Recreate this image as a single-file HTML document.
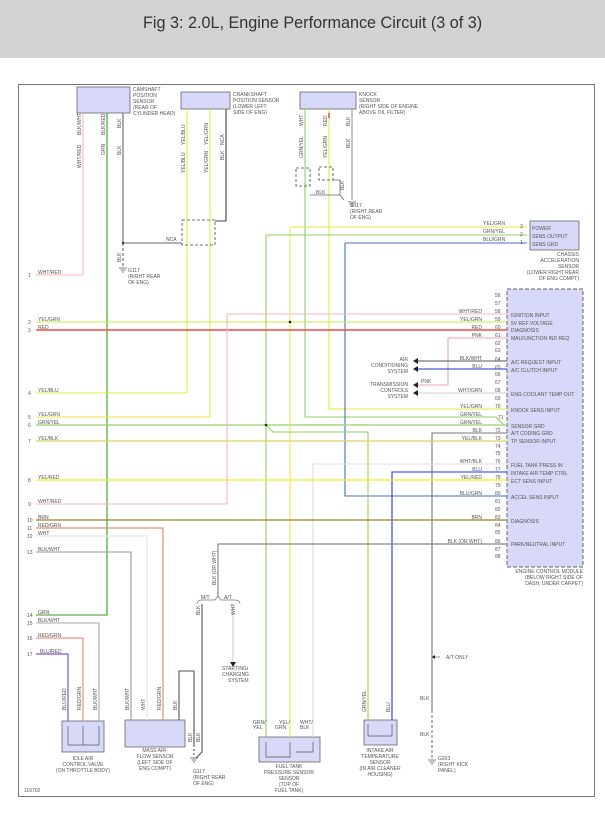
<!DOCTYPE html>
<html><head><meta charset="utf-8"><style>
html,body{margin:0;padding:0;background:#fff;}
svg{display:block;}
text{font-family:"Liberation Sans",sans-serif;font-size:5px;fill:#555;}
.t{font-size:16.2px;fill:#333;}
</style></head><body>
<svg width="605" height="815" viewBox="0 0 605 815" xmlns="http://www.w3.org/2000/svg">
<rect x="0" y="0" width="605" height="58" fill="#d3d3d3"/>
<text class="t" x="143" y="28">Fig 3: 2.0L, Engine Performance Circuit (3 of 3)</text>
<rect x="18.5" y="84.5" width="576" height="712" fill="none" stroke="#777" stroke-width="1"/>

<g fill="#d8d8f8" stroke="#666" stroke-width="0.8">
<rect x="77" y="87" width="53" height="26"/>
<rect x="181" y="92" width="49" height="17"/>
<rect x="300" y="92" width="56" height="17"/>
<rect x="530" y="221" width="49" height="29"/>
<rect x="507" y="289" width="76" height="278" stroke-dasharray="4,2" stroke-width="1"/>
<rect x="62" y="721" width="42" height="31"/>
<rect x="125" y="720" width="60" height="27"/>
<rect x="259" y="737" width="61" height="25"/>
<rect x="364" y="720" width="33" height="25"/>
</g>

<g fill="none" stroke-width="1.1">
<path d="M83 113V275H36" stroke="#f4b8b8"/>
<path d="M107 113V615H36" stroke="#3a9a20"/>
<path d="M123 113V243" stroke="#666"/>
<path d="M123 243V266" stroke="#666" stroke-dasharray="3,2"/>
<path d="M123 243H182" stroke="#666"/>
<path d="M187 109V393H36" stroke="#eaea40"/>
<path d="M210 109V417H36" stroke="#e6e640"/>
<path d="M226 109V221H215" stroke="#444"/>
<rect x="182" y="220" width="33" height="25" stroke="#444" stroke-dasharray="3,2" stroke-width="0.8"/>
<path d="M305 109V417H496L504 425" stroke="#8fd060"/>
<path d="M329 109V409H507" stroke="#e6e640"/>
<path d="M352 109V200" stroke="#999"/>
<path d="M329 113V118" stroke="#d33" stroke-width="1.4"/>
<rect x="296" y="168" width="14" height="18" stroke="#444" stroke-dasharray="3,2" stroke-width="0.8"/>
<rect x="319" y="167" width="14" height="13" stroke="#444" stroke-dasharray="3,2" stroke-width="0.8"/>
<path d="M310 195H340L344 200M333 180H340V195" stroke="#666" stroke-width="0.8"/>
<path d="M290 227H527" stroke="#e6e640"/>
<path d="M290 227V737" stroke="#eaea40"/>
<path d="M266 235H527" stroke="#8fd060"/>
<path d="M266 235V737" stroke="#8fd060"/>
<path d="M345 243H527" stroke="#4a6ad0"/>
<path d="M345 243V496H507" stroke="#4a6ad0"/>
<path d="M36 322H507" stroke="#c8e840"/>
<path d="M36 330H507" stroke="#f04848" stroke-width="1.5"/>
<path d="M36 504H227V314H507" stroke="#f4b8b8"/>
<path d="M507 338H448V385H417" stroke="#f4a0b8"/>
<path d="M507 361H417" stroke="#555"/>
<path d="M507 369H417" stroke="#2233cc"/>
<path d="M507 393H417" stroke="#c8d0c0"/>
<path d="M36 425H507" stroke="#a8d880" stroke-width="1.4"/>
<path d="M266 425L273 432H368V720" stroke="#8fd060"/>
<path d="M507 433H432V710" stroke="#777"/>
<path d="M432 710V758" stroke="#777" stroke-dasharray="3,2"/>
<path d="M36 441H507" stroke="#e0d060" stroke-width="1.2"/>
<path d="M507 464H313V737" stroke="#ddd"/>
<path d="M507 472H392V720" stroke="#2233ee"/>
<path d="M36 480H507" stroke="#f0f020" stroke-width="1.3"/>
<path d="M36 520H507" stroke="#9a8030" stroke-width="1.2"/>
<path d="M36 528H163V720" stroke="#e09070" stroke-width="1.2"/>
<path d="M36 536H147V720" stroke="#e8e8e8" stroke-width="1.3"/>
<path d="M36 552H131V720" stroke="#999"/>
<path d="M507 544H218V596" stroke="#888" stroke-width="1.2"/>
<path d="M197 604Q197 600 202 600H215L218 596L221 600H235Q240 600 240 604" stroke="#777" stroke-width="0.7"/>
<path d="M202 604V752L196 758" stroke="#555"/>
<path d="M233 604V662" stroke="#ccc"/>
<path d="M179 720V671H194V745" stroke="#555"/>
<path d="M194 725V757" stroke="#555" stroke-dasharray="2,2"/>
<path d="M36 623H99V721" stroke="#aaa"/>
<path d="M36 638H83V721" stroke="#f09080" stroke-width="1.2"/>
<path d="M36 654H68V721" stroke="#8050e0" stroke-width="1.2"/>
<path d="M68 726V745H99V726M83 726V745" stroke="#555" stroke-width="0.7"/>
<path d="M266 742V757H290V742M290 752V742M296 752H313V742" stroke="#555" stroke-width="0.7"/>
<path d="M368 724V736H392V724" stroke="#555" stroke-width="0.7"/>
<path d="M432 657H440" stroke="#555" stroke-width="0.6"/>
</g>

<g fill="#222">
<circle cx="290" cy="322" r="1.3"/><circle cx="266" cy="425" r="1.3"/><circle cx="123" cy="243" r="1.1"/>
</g>
<g fill="#222">
<path d="M413 361l5-3v6z"/><path d="M413 369l5-3v6z"/><path d="M413 385l5-3v6z"/><path d="M413 393l5-3v6z"/>
<path d="M230 662h6l-3 5z"/>
<path d="M432 657l3-2v4z"/>
</g>
<g stroke="#555" stroke-width="0.8">
<path d="M119 268h8M120.5 270h5M122 272h2"/><path d="M348 202h8M349.5 204h5M351 206h2"/>
<path d="M190 758h8M191.5 760h5M193 762h2"/><path d="M428 760h8M429.5 762h5M431 764h2"/>
</g>

<g>
<text x="133" y="91">CAMSHAFT</text><text x="133" y="97">POSITION</text><text x="133" y="103">SENSOR</text><text x="133" y="109">(REAR OF</text><text x="133" y="115">CYLINDER HEAD)</text>
<text x="233" y="96">CRANKSHAFT</text><text x="233" y="102">POSITION SENSOR</text><text x="233" y="108">(LOWER LEFT</text><text x="233" y="114">SIDE OF ENG)</text>
<text x="359" y="96">KNOCK</text><text x="359" y="102">SENSOR</text><text x="359" y="108">(RIGHT SIDE OF ENGINE</text><text x="359" y="114">ABOVE OIL FILTER)</text>
<text x="128" y="272">G117</text><text x="128" y="278">(RIGHT REAR</text><text x="128" y="284">OF ENG)</text>
<text x="350" y="207">G117</text><text x="350" y="213">(RIGHT REAR</text><text x="350" y="219">OF ENG)</text>
<text x="316" y="194">BLK</text><text x="166" y="241">NCA</text>
<text x="532" y="230">POWER</text><text x="532" y="238">SENS OUTPUT</text><text x="532" y="246">SENS GRD</text>
<text x="520" y="228">3</text><text x="520" y="236">2</text><text x="520" y="244">1</text>
<text x="483" y="225">YEL/GRN</text><text x="483" y="233">GRN/YEL</text><text x="483" y="241">BLU/GRN</text>
<g text-anchor="end"><text x="579" y="256">CHASSIS</text><text x="579" y="262">ACCELERATION</text><text x="579" y="268">SENSOR</text><text x="579" y="274">(LOWER RIGHT REAR</text><text x="579" y="280">OF ENG COMPT)</text>
<text x="408" y="361">AIR</text><text x="408" y="367">CONDITIONING</text><text x="408" y="373">SYSTEM</text>
<text x="408" y="386">TRANSMISSION</text><text x="408" y="392">CONTROLS</text><text x="408" y="398">SYSTEM</text>
<text x="482" y="313">WHT/RED</text><text x="482" y="321">YEL/GRN</text><text x="482" y="329">RED</text><text x="482" y="337">PNK</text>
<text x="482" y="360">BLK/WHT</text><text x="482" y="368">BLU</text><text x="482" y="392">WHT/GRN</text><text x="482" y="408">YEL/GRN</text>
<text x="482" y="416">GRN/YEL</text><text x="482" y="424">GRN/YEL</text><text x="482" y="432">BLK</text><text x="482" y="440">YEL/BLK</text>
<text x="482" y="463">WHT/BLK</text><text x="482" y="471">BLU</text><text x="482" y="479">YEL/RED</text><text x="482" y="495">BLU/GRN</text>
<text x="482" y="519">BRN</text><text x="482" y="543">BLK (OR WHT)</text>
</g>
<text x="421" y="383">PNK</text>
<g font-size="4.5">
<text x="495" y="297">56</text><text x="495" y="305">57</text><text x="495" y="313">58</text><text x="495" y="321">59</text><text x="495" y="329">60</text><text x="495" y="337">61</text><text x="495" y="345">62</text><text x="495" y="352">63</text><text x="495" y="361">64</text><text x="495" y="369">65</text><text x="495" y="376">66</text><text x="495" y="384">67</text><text x="495" y="392">68</text><text x="495" y="400">69</text><text x="495" y="408">70</text><text x="498" y="419">71</text><text x="495" y="432">72</text><text x="495" y="440">73</text><text x="495" y="448">74</text><text x="495" y="455">75</text><text x="495" y="463">76</text><text x="495" y="471">77</text><text x="495" y="479">78</text><text x="495" y="487">79</text><text x="495" y="495">80</text><text x="495" y="503">81</text><text x="495" y="511">82</text><text x="495" y="519">83</text><text x="495" y="527">84</text><text x="495" y="534">85</text><text x="495" y="543">86</text><text x="495" y="551">87</text><text x="495" y="558">88</text>
</g>
<text x="511" y="317">IGNITION INPUT</text><text x="511" y="325">5V REF VOLTAGE</text><text x="511" y="332">DIAGNOSIS</text><text x="511" y="340">MALFUNCTION IND REQ</text>
<text x="511" y="364">A/C REQUEST INPUT</text><text x="511" y="372">A/C CLUTCH INPUT</text><text x="511" y="396">ENG COOLANT TEMP OUT</text><text x="511" y="412">KNOCK SENS INPUT</text>
<text x="511" y="428">SENSOR GRD</text><text x="511" y="435">A/T CODING GRD</text><text x="511" y="443">TP SENSOR INPUT</text>
<text x="511" y="467">FUEL TANK PRESS IN</text><text x="511" y="475">INTAKE AIR TEMP CTRL</text><text x="511" y="483">ECT SENS INPUT</text><text x="511" y="499">ACCEL SENS INPUT</text>
<text x="511" y="523">DIAGNOSIS</text><text x="511" y="546">PARK/NEUTRAL INPUT</text>
<g text-anchor="end"><text x="583" y="573">ENGINE CONTROL MODULE</text><text x="583" y="579">(BELOW RIGHT SIDE OF</text><text x="583" y="585">DASH, UNDER CARPET)</text></g>

<g font-size="4.5">
<text x="28" y="277">1</text><text x="28" y="324">2</text><text x="28" y="332">3</text><text x="28" y="395">4</text><text x="28" y="419">5</text><text x="28" y="427">6</text><text x="28" y="443">7</text><text x="28" y="482">8</text><text x="28" y="506">9</text><text x="27" y="522">10</text><text x="27" y="530">11</text><text x="27" y="538">12</text><text x="27" y="554">13</text><text x="27" y="617">14</text><text x="27" y="625">15</text><text x="27" y="640">16</text><text x="27" y="656">17</text>
</g>
<text x="38" y="274">WHT/RED</text><text x="38" y="321">YEL/GRN</text><text x="38" y="329">RED</text><text x="38" y="392">YEL/BLU</text><text x="38" y="416">YEL/GRN</text><text x="38" y="424">GRN/YEL</text><text x="38" y="440">YEL/BLK</text><text x="38" y="479">YEL/RED</text><text x="38" y="503">WHT/RED</text><text x="38" y="519">BRN</text><text x="38" y="527">RED/GRN</text><text x="38" y="535">WHT</text><text x="38" y="551">BLK/WHT</text><text x="38" y="614">GRN</text><text x="38" y="622">BLK/WHT</text><text x="38" y="637">RED/GRN</text><text x="40" y="653">BLU/RED</text>

<text x="201" y="599">M/T</text><text x="224" y="599">A/T</text>
<text x="222" y="670">STARTING/</text><text x="222" y="676">CHARGING</text><text x="228" y="682">SYSTEM</text>
<text x="446" y="659">A/T ONLY</text>
<text x="420" y="700">BLK</text><text x="420" y="736">BLK</text>
<text x="438" y="760">G203</text><text x="438" y="766">(RIGHT KICK</text><text x="438" y="772">PANEL)</text>
<text x="193" y="773">G117</text><text x="193" y="779">(RIGHT REAR</text><text x="193" y="785">OF ENG)</text>
<g text-anchor="middle">
<text x="83" y="760">IDLE AIR</text><text x="83" y="766">CONTROL VALVE</text><text x="83" y="772">(ON THROTTLE BODY)</text>
<text x="155" y="752">MASS AIR-</text><text x="155" y="758">FLOW SENSOR</text><text x="155" y="764">(LEFT SIDE OF</text><text x="155" y="770">ENG COMPT)</text>
<text x="289" y="768">FUEL TANK</text><text x="289" y="774">PRESSURE SENSOR</text><text x="289" y="780">SENSOR</text><text x="289" y="786">(TOP OF</text><text x="289" y="792">FUEL TANK)</text>
<text x="380" y="752">INTAKE AIR</text><text x="380" y="758">TEMPERATURE</text><text x="380" y="764">SENSOR</text><text x="380" y="770">(IN AIR CLEANER</text><text x="380" y="776">HOUSING)</text>
</g>
<text x="253" y="724">GRN/</text><text x="253" y="729">YEL</text><text x="279" y="724">YEL/</text><text x="275" y="729">GRN</text><text x="300" y="724">WHT/</text><text x="300" y="729">BLK</text>
<text x="24" y="792" font-size="4.5">116702</text>

<g font-size="4.5">
<text transform="translate(81,168) rotate(-90)">WHT/RED</text>
<text transform="translate(105,155) rotate(-90)">GRN</text>
<text transform="translate(121,155) rotate(-90)">BLK</text>
<text transform="translate(81,135) rotate(-90)">BLK/WHT</text>
<text transform="translate(105,135) rotate(-90)">BLK/RED</text>
<text transform="translate(121,128) rotate(-90)">BLK</text>
<text transform="translate(185,173) rotate(-90)">YEL/BLU</text>
<text transform="translate(208,173) rotate(-90)">YEL/GRN</text>
<text transform="translate(224,160) rotate(-90)">BLK</text>
<text transform="translate(185,145) rotate(-90)">YEL/BLU</text>
<text transform="translate(208,145) rotate(-90)">YEL/GRN</text>
<text transform="translate(224,145) rotate(-90)">NCA</text>
<text transform="translate(303,158) rotate(-90)">GRN/YEL</text>
<text transform="translate(327,158) rotate(-90)">YEL/GRN</text>
<text transform="translate(350,148) rotate(-90)">BLK</text>
<text transform="translate(303,126) rotate(-90)">WHT</text>
<text transform="translate(327,126) rotate(-90)">RED</text>
<text transform="translate(350,126) rotate(-90)">BLK</text>
<text transform="translate(121,262) rotate(-90)">BLK</text>
<text transform="translate(344,190) rotate(-90)">BLK</text>
<text transform="translate(216,585) rotate(-90)">BLK (OR WHT)</text>
<text transform="translate(200,615) rotate(-90)">BLK</text>
<text transform="translate(235,615) rotate(-90)">WHT</text>
<text transform="translate(66,710) rotate(-90)">BLU/RED</text>
<text transform="translate(81,710) rotate(-90)">RED/GRN</text>
<text transform="translate(97,710) rotate(-90)">BLK/WHT</text>
<text transform="translate(129,710) rotate(-90)">BLK/WHT</text>
<text transform="translate(145,710) rotate(-90)">WHT</text>
<text transform="translate(161,710) rotate(-90)">RED/GRN</text>
<text transform="translate(177,710) rotate(-90)">BLK</text>
<text transform="translate(192,742) rotate(-90)">BLK</text>
<text transform="translate(200,742) rotate(-90)">BLK</text>
<text transform="translate(366,712) rotate(-90)">GRN/YEL</text>
<text transform="translate(390,712) rotate(-90)">BLU</text>
</g>
</g>
</svg>
</body></html>
